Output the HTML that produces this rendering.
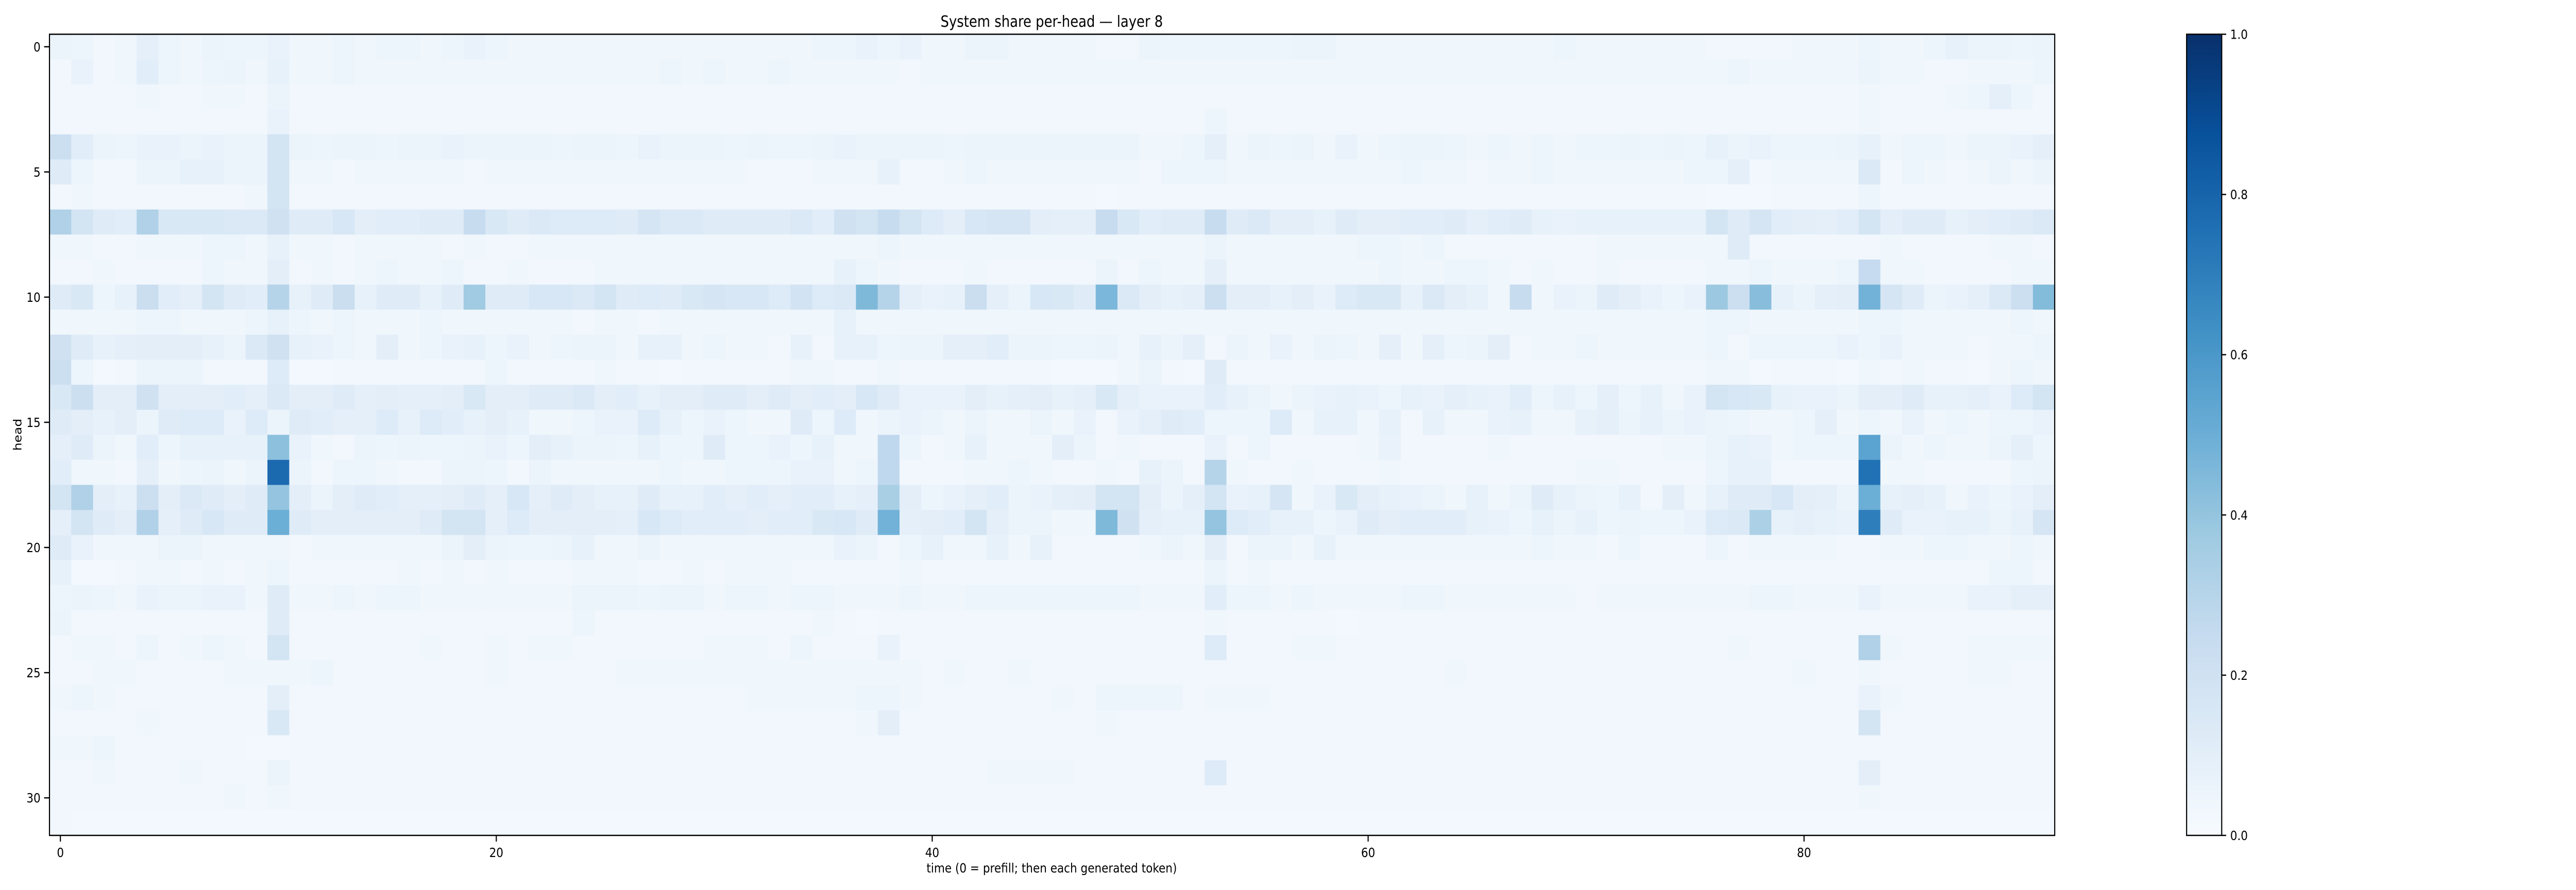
<!DOCTYPE html>
<html><head><meta charset="utf-8"><style>
html,body{margin:0;padding:0;background:#fff;width:100%;height:100%;overflow:hidden;}
svg{display:block;width:100vw;height:100vh;font-family:"DejaVu Sans","Liberation Sans",sans-serif;}
</style></head><body>
<svg id="chart" viewBox="0 0 5795 1728" preserveAspectRatio="none" xmlns="http://www.w3.org/2000/svg">
<rect x="0" y="0" width="5795" height="1728" fill="#ffffff"/>
<text x="2366" y="52" font-size="30" text-anchor="middle" fill="#000">System share per-head — layer 8</text>
<g id="cells"></g>
<g id="xaxis"></g>
<g id="yaxis"></g>
<text x="2366" y="1694" font-size="25" text-anchor="middle" fill="#000">time (0 = prefill; then each generated token)</text>
<text x="0" y="0" font-size="25" text-anchor="middle" fill="#000" transform="translate(48,844) rotate(-90)">head</text>
<defs><linearGradient id="cbgrad" x1="0" y1="1" x2="0" y2="0">
<stop offset="0" stop-color="#f7fbff"/><stop offset="0.125" stop-color="#deebf7"/><stop offset="0.25" stop-color="#c6dbef"/><stop offset="0.375" stop-color="#9ecae1"/><stop offset="0.5" stop-color="#6baed6"/><stop offset="0.625" stop-color="#4292c6"/><stop offset="0.75" stop-color="#2171b5"/><stop offset="0.875" stop-color="#08519c"/><stop offset="1" stop-color="#08306b"/>
</linearGradient></defs>
<rect x="4919" y="66.5" width="79" height="1555.5" fill="url(#cbgrad)" stroke="#000" stroke-width="2.5"/>
<g id="cbaxis"></g>
<rect x="111.3" y="66.5" width="4511" height="1555.5" fill="none" stroke="#000" stroke-width="2.5"/>
</svg>
<script>
const xTicks = [0, 20, 40, 60, 80];
const yTicks = [0, 5, 10, 15, 20, 25, 30];
const cbTicks = [0.0, 0.2, 0.4, 0.6, 0.8, 1.0];
const cbTickLabels = ["0.0", "0.2", "0.4", "0.6", "0.8", "1.0"];
// values are system share in percent; rows = heads 0..31, cols = time 0..91
const head0 = [6,5,3,4,9,5,4,6,5,5, 7,4,4,5,4,5,5,4,5,7, 5,4,4,4,4,4,4,4,4,4, 4,4,4,4,4,5,5,7,5,7, 4,4,6,6,4,4,4,4,3,3, 6,5,5,5,5,5,5,6,6,4, 4,4,4,4,4,4,4,4,4,5, 4,4,4,4,4,4,3,3,3,3, 4,4,4,5,4,4,5,8,6,6, 5,6];
const head1 = [3,7,3,4,11,5,4,5,6,4, 8,4,4,5,4,4,4,4,4,4, 4,4,4,4,4,4,4,4,5,4, 5,4,4,5,4,4,4,4,4,3, 4,4,4,4,4,4,4,4,4,4, 4,4,4,4,4,4,4,4,4,4, 4,4,4,4,4,4,4,4,4,4, 4,4,4,4,4,4,4,5,4,4, 4,4,4,6,4,4,3,3,4,4, 4,5];
const head2 = [3,3,3,3,4,3,3,4,4,3, 6,3,3,3,3,3,3,3,3,3, 3,3,3,3,3,3,3,3,3,3, 3,3,3,3,3,3,3,3,3,3, 3,3,3,3,3,3,3,3,3,3, 3,3,3,3,3,3,3,3,3,3, 3,3,3,3,3,3,3,3,3,3, 3,3,3,3,3,3,3,3,3,3, 3,3,3,4,3,3,3,4,5,9, 5,3];
const head3 = [3,3,3,3,3,3,3,3,3,3, 7,3,3,3,3,3,3,3,3,3, 3,3,3,3,3,3,3,3,3,3, 3,3,3,3,3,3,3,3,3,3, 3,3,3,3,3,3,3,3,3,3, 3,3,3,5,3,3,3,3,3,3, 3,3,3,3,3,3,3,3,3,3, 3,3,3,3,3,3,3,3,3,3, 3,3,3,4,3,3,3,3,3,3, 3,3];
const head4 = [22,11,6,5,7,7,6,7,6,6, 18,6,5,6,6,5,6,6,7,6, 6,6,6,5,6,6,5,7,6,6, 6,5,6,5,5,6,7,6,6,6, 6,5,6,6,6,6,6,6,6,6, 4,4,5,9,4,6,5,6,4,7, 4,5,6,6,5,4,5,4,5,4, 5,5,6,5,6,5,8,6,7,5, 5,5,6,8,4,5,5,4,6,6, 7,9];
const head5 = [12,5,3,3,6,6,8,8,6,6, 18,4,4,3,4,4,4,4,4,3, 4,4,4,4,4,4,4,4,4,4, 4,4,3,3,3,4,4,4,8,3, 3,4,5,4,4,4,4,4,4,4, 3,5,5,5,4,4,4,4,4,4, 4,4,5,4,4,3,4,4,5,4, 4,4,4,4,4,5,5,9,3,4, 4,4,4,14,3,5,4,3,4,6, 4,6];
const head6 = [3,4,3,3,3,3,3,3,3,4, 18,3,3,3,3,3,3,3,3,3, 3,3,3,3,3,3,3,3,3,3, 3,3,3,3,3,3,3,3,3,3, 3,3,3,3,3,3,3,3,2,3, 3,3,3,3,3,3,3,3,3,3, 3,3,3,3,3,3,3,3,3,3, 3,3,3,3,3,3,2,2,2,3, 3,3,3,5,3,3,3,3,3,3, 3,3];
const head7 = [32,18,12,11,32,15,15,15,14,14, 20,12,12,16,10,11,11,12,12,24, 15,12,14,13,13,13,12,17,14,14, 12,12,12,12,14,11,20,18,24,18, 13,10,16,17,17,10,9,9,24,15, 11,12,12,24,12,14,10,10,8,12, 10,10,11,11,12,9,11,12,8,7, 8,8,8,8,8,8,18,12,17,11, 10,9,11,18,10,12,12,8,10,11, 12,14];
const head8 = [4,4,3,3,4,4,4,5,5,4, 8,4,4,3,4,4,4,4,3,4, 3,3,4,4,4,4,4,4,4,4, 4,4,4,4,4,4,4,4,5,4, 4,4,4,4,4,4,4,4,4,4, 4,4,4,6,4,4,4,4,4,4, 5,5,4,5,3,3,3,3,3,3, 3,4,4,4,4,4,4,12,3,3, 3,3,3,3,4,3,3,3,3,4, 4,3];
const head9 = [3,3,4,3,3,3,3,5,4,4, 10,3,4,3,4,5,4,4,5,3, 3,4,3,3,3,4,4,4,4,4, 4,4,4,4,4,4,8,5,4,3, 3,3,4,3,3,3,3,3,6,3, 5,4,4,9,4,4,4,4,4,4, 4,5,4,4,5,5,4,3,4,3, 3,4,3,3,3,3,4,4,5,4, 4,4,5,25,4,4,3,3,3,3, 4,4];
const head10 = [12,15,5,8,23,11,9,18,12,11, 30,8,12,23,8,12,12,8,12,37, 12,12,16,16,14,18,12,13,12,15, 17,16,16,13,19,13,14,45,30,9, 7,8,23,9,6,16,15,12,46,14, 10,8,9,22,10,10,8,10,7,13, 15,15,8,14,10,8,4,24,4,7, 6,12,10,7,5,7,38,22,43,8, 6,9,10,48,17,12,6,7,9,14, 22,44];
const head11 = [4,4,4,4,5,5,4,4,4,5, 8,5,4,5,4,4,4,5,4,4, 4,4,4,4,3,4,4,3,4,4, 4,4,4,4,4,4,8,4,4,4, 4,4,4,4,4,4,4,4,4,4, 4,4,4,4,4,4,4,4,4,4, 4,4,4,4,4,4,4,4,4,4, 4,4,4,4,4,4,5,5,4,4, 4,4,4,5,5,4,4,4,4,4, 5,4];
const head12 = [20,12,8,9,10,10,10,8,6,14, 20,8,7,5,4,10,4,5,7,8, 5,7,4,5,6,6,4,8,8,4, 5,4,4,3,8,3,8,8,5,6, 6,9,9,11,6,6,5,5,6,4, 8,6,9,3,6,4,7,4,6,5, 4,9,4,9,5,6,10,3,4,4, 5,4,4,4,4,4,5,3,5,5, 5,5,7,5,7,4,4,4,3,4, 4,5];
const head13 = [22,5,2,3,6,6,6,3,3,3, 13,2,2,3,3,3,3,3,3,3, 5,3,3,3,3,4,3,3,2,3, 3,3,3,3,4,4,3,3,4,3, 3,3,3,3,3,3,2,2,2,4, 6,3,2,12,3,3,3,3,3,3, 3,3,3,3,3,3,3,3,3,3, 3,3,3,3,3,3,4,4,2,3, 3,3,2,4,3,4,3,3,2,4, 5,4];
const head14 = [15,22,10,10,20,10,10,10,11,9, 14,10,10,12,9,10,9,9,10,15, 10,10,12,12,14,10,11,8,10,10, 12,12,10,12,10,11,10,16,12,7, 7,7,10,8,9,10,8,9,15,9, 7,7,7,11,8,6,4,6,7,8, 7,5,8,7,9,8,7,11,5,8, 5,9,5,8,4,7,18,16,15,8, 7,7,6,10,10,12,8,8,9,7, 13,18];
const head15 = [12,10,8,10,6,12,13,13,7,13, 6,12,11,9,9,13,8,13,11,8, 10,8,4,4,5,7,7,13,8,5, 7,5,4,4,12,5,13,4,6,7, 6,4,6,4,4,6,4,7,3,7, 9,12,11,5,5,5,13,4,8,8, 4,8,3,8,4,4,7,8,4,4, 8,9,6,8,6,7,6,5,4,4, 5,9,4,5,4,7,4,5,4,5, 5,7];
const head16 = [9,12,6,4,11,5,8,8,8,8, 42,7,4,3,6,5,6,5,5,6, 7,5,10,8,6,6,5,8,5,5, 12,5,5,7,5,8,4,4,27,5, 3,4,8,4,4,4,10,6,3,4, 3,3,3,7,3,5,3,3,3,3, 4,7,3,3,3,3,4,3,3,3, 3,3,3,3,4,4,6,8,7,4, 5,5,5,55,6,4,5,4,4,6, 9,5];
const head17 = [11,4,4,3,9,4,5,6,4,6, 78,6,3,5,5,4,3,3,6,6, 5,3,6,4,4,4,4,4,5,4, 4,5,5,5,7,7,4,5,27,3, 3,3,4,4,5,4,3,3,4,3, 8,6,3,30,4,3,3,4,3,3, 3,4,3,3,3,3,3,3,3,3, 4,4,3,3,3,3,5,8,8,3, 3,3,3,75,4,4,3,3,3,3, 5,6];
const head18 = [18,32,10,8,22,10,14,12,10,12, 40,10,6,10,12,11,9,9,10,12, 9,16,9,12,10,8,8,12,8,8, 11,9,11,9,11,11,8,9,34,10, 5,7,9,11,6,7,9,10,18,18, 10,6,9,18,7,8,17,4,7,15, 10,8,7,6,4,8,4,6,12,8, 6,5,8,3,10,4,8,12,12,16, 10,9,6,50,8,9,8,4,7,5, 7,10];
const head19 = [9,18,12,10,32,9,12,16,12,12, 50,12,10,10,10,10,10,12,18,18, 9,13,10,10,10,10,9,16,13,11, 11,11,10,11,11,15,16,12,48,9, 10,11,18,9,6,6,4,4,45,20, 9,8,8,40,13,11,8,8,5,7, 12,10,11,11,11,8,7,5,8,6, 8,5,6,5,5,7,13,14,33,8, 9,8,7,70,12,7,7,8,8,6, 8,17];
const head20 = [12,7,4,4,4,6,6,4,4,4, 4,3,4,4,4,4,4,4,6,10, 6,5,5,6,8,4,4,6,4,4, 4,4,4,4,4,4,7,6,3,5, 8,4,4,8,4,8,3,3,3,3, 4,6,4,10,3,6,6,4,8,4, 4,4,4,4,4,4,4,4,5,4, 4,3,5,3,3,3,5,3,4,4, 4,4,3,3,4,4,5,5,4,4, 5,4];
const head21 = [8,2,2,3,4,4,3,4,3,4, 5,3,3,3,3,3,4,3,4,3, 4,3,3,3,4,4,4,3,3,4, 3,4,4,4,3,3,3,3,3,4, 3,3,3,3,3,3,3,3,3,3, 3,3,3,6,3,4,3,3,3,3, 3,3,3,3,3,3,3,3,3,3, 3,3,3,3,3,3,3,3,3,3, 3,3,3,3,3,3,3,3,3,5, 5,3];
const head22 = [5,6,5,4,7,6,6,7,7,4, 12,4,4,5,4,5,5,4,4,4, 4,4,4,4,6,6,6,5,6,6, 4,5,5,4,5,5,4,4,4,5, 4,4,5,5,5,5,5,5,5,5, 4,4,4,11,5,5,4,5,4,4, 4,4,5,5,4,4,4,4,4,4, 3,4,4,4,4,4,4,4,5,5, 4,4,4,7,4,4,4,4,7,7, 9,9];
const head23 = [6,3,3,3,3,3,3,3,3,3, 12,3,3,3,3,3,3,3,3,3, 3,3,3,3,5,3,3,3,3,3, 3,3,3,3,3,4,3,2,3,3, 3,3,3,3,3,3,3,3,3,3, 3,3,3,4,3,3,3,3,3,2, 3,3,3,3,3,3,3,3,3,3, 3,3,3,3,3,3,3,3,3,3, 3,3,3,3,3,3,3,3,3,3, 3,3];
const head24 = [3,4,4,3,5,3,4,5,4,3, 18,3,3,3,3,3,3,4,3,3, 4,3,4,4,3,3,3,3,3,3, 4,4,4,3,5,3,3,3,7,3, 3,3,3,3,3,3,3,3,3,3, 3,3,3,13,3,3,3,4,4,3, 3,3,3,3,3,3,3,3,3,3, 3,3,3,3,3,3,3,4,3,3, 3,3,3,32,4,3,3,3,4,4, 4,4];
const head25 = [3,3,4,4,3,3,3,3,4,4, 4,4,5,3,3,3,3,3,3,3, 4,3,3,3,3,3,4,4,4,4, 4,4,4,4,4,4,4,4,4,4, 3,4,3,3,4,3,3,3,3,3, 3,3,3,3,3,3,3,3,3,3, 3,3,3,3,4,3,3,3,3,3, 3,3,3,3,3,3,3,3,3,3, 4,3,3,4,3,3,3,3,4,4, 3,3];
const head26 = [4,5,4,3,3,3,3,3,3,3, 10,3,3,3,3,3,3,3,3,3, 3,3,3,3,3,3,3,3,3,3, 3,3,4,4,4,4,4,5,5,4, 3,3,3,3,3,3,4,3,5,5, 5,5,3,4,4,4,3,3,3,3, 3,3,3,3,3,3,3,3,3,3, 3,3,3,3,3,3,3,3,3,3, 3,3,3,7,4,3,3,3,3,3, 3,3];
const head27 = [3,3,3,3,4,3,3,3,3,3, 15,3,3,3,3,3,3,3,3,3, 3,3,3,3,3,3,3,3,3,3, 3,3,3,3,3,3,3,4,10,3, 3,3,3,3,3,3,3,3,4,3, 3,3,3,3,3,3,3,3,3,3, 3,3,3,3,3,3,3,3,3,3, 3,3,3,3,3,3,3,3,3,3, 3,3,3,18,3,3,3,3,3,3, 3,3];
const head28 = [4,4,5,3,3,3,3,3,3,2, 2,3,3,3,3,3,3,3,3,3, 3,3,3,3,3,3,3,3,3,3, 3,3,3,3,3,3,3,3,3,3, 3,3,3,3,3,3,3,3,3,3, 3,3,3,3,3,3,3,3,3,3, 3,3,3,3,3,3,3,3,3,3, 3,3,3,3,3,3,3,3,3,3, 3,3,3,3,3,3,3,3,3,3, 3,3];
const head29 = [3,3,4,3,3,3,4,3,3,3, 6,3,3,3,3,3,3,3,3,3, 3,3,3,3,3,3,3,3,3,3, 3,3,3,3,3,3,3,3,3,3, 3,3,3,4,4,4,4,3,3,3, 3,3,3,13,3,3,3,3,3,3, 3,3,3,3,3,3,3,3,3,3, 3,3,3,3,3,3,3,3,3,3, 3,3,3,10,3,3,3,3,3,3, 3,3];
const head30 = [3,3,3,3,3,3,3,3,4,3, 4,3,3,3,3,3,3,3,3,3, 3,3,3,3,3,3,3,3,3,3, 3,3,3,3,3,3,3,3,3,3, 3,3,3,3,3,3,3,3,3,3, 3,3,3,3,3,3,3,3,3,3, 3,3,3,3,3,3,3,3,3,3, 3,3,3,3,3,3,3,3,3,3, 3,3,3,4,3,3,3,3,3,3, 3,3];
const head31 = [3,2,2,2,2,2,2,2,2,2, 2,2,2,2,2,2,2,2,2,2, 2,2,2,2,2,2,2,2,2,2, 2,2,2,2,2,2,2,2,2,2, 2,2,2,2,2,2,2,2,2,2, 2,2,2,2,2,2,2,2,2,2, 2,2,2,2,2,2,2,2,2,2, 2,2,2,2,2,2,2,2,2,2, 2,2,2,2,2,2,2,2,2,2, 2,2];
const heads = [head0,head1,head2,head3,head4,head5,head6,head7,head8,head9,head10,head11,head12,head13,head14,head15,head16,head17,head18,head19,head20,head21,head22,head23,head24,head25,head26,head27,head28,head29,head30,head31];

const NS = "http://www.w3.org/2000/svg";
const PL = 111.3, PT = 66.5, PW = 4511, PH = 1555.5;
const nCols = 92, nRows = heads.length;
const cw = PW / nCols, rh = PH / nRows;
function xScale(t) { return PL + (t + 0.5) * cw; }
function yScale(h) { return PT + (h + 0.5) * rh; }
function cbScale(v) { return PT + PH - v * PH; }
const stops = [[247,251,255],[222,235,247],[198,219,239],[158,202,225],[107,174,214],[66,146,198],[33,113,181],[8,81,156],[8,48,107]];
function blues(v) {
  v = Math.max(0, Math.min(1, v));
  const p = v * 8, i = Math.min(7, Math.floor(p)), f = p - i;
  const a = stops[i], b = stops[i + 1];
  return "rgb(" + [0,1,2].map(k => Math.round(a[k] + (b[k] - a[k]) * f)).join(",") + ")";
}
function mk(tag, attrs, parent) {
  const e = document.createElementNS(NS, tag);
  for (const k in attrs) e.setAttribute(k, attrs[k]);
  parent.appendChild(e);
  return e;
}
const cells = document.getElementById("cells");
heads.forEach((row, h) => {
  row.forEach((v, t) => {
    const x0 = Math.max(PL, xScale(t) - cw / 2);
    const x1 = Math.min(PL + PW, xScale(t) + cw / 2 + 0.6);
    const r = mk("rect", {x: x0.toFixed(2), y: (yScale(h) - rh / 2).toFixed(2), width: (x1 - x0).toFixed(2), height: (rh + 0.6).toFixed(2), fill: blues(v / 100)}, cells);
    
    
  });
});
const xa = document.getElementById("xaxis");
xTicks.forEach(t => {
  const x = xScale(t);
  const l = mk("line", {x1: x, y1: PT + PH, x2: x, y2: PT + PH + 12, stroke: "#000", "stroke-width": 2.5}, xa);
  
  
  const tx = mk("text", {x: x, y: PT + PH + 42, "font-size": 25, "text-anchor": "middle", fill: "#000"}, xa);
  tx.textContent = String(t);
  
  
});
const ya = document.getElementById("yaxis");
yTicks.forEach(h => {
  const y = yScale(h);
  const l = mk("line", {x1: PL - 12, y1: y, x2: PL, y2: y, stroke: "#000", "stroke-width": 2.5}, ya);
  
  
  const tx = mk("text", {x: PL - 20, y: y + 9, "font-size": 25, "text-anchor": "end", fill: "#000"}, ya);
  tx.textContent = String(h);
  
  
});
const cba = document.getElementById("cbaxis");
cbTicks.forEach((v, i) => {
  const y = cbScale(v);
  const l = mk("line", {x1: 4998, y1: y, x2: 5008, y2: y, stroke: "#000", "stroke-width": 2.5}, cba);
  
  
  const tx = mk("text", {x: 5017, y: y + 9, "font-size": 25, fill: "#000"}, cba);
  tx.textContent = cbTickLabels[i];
  
  
});
</script>
</body></html>
